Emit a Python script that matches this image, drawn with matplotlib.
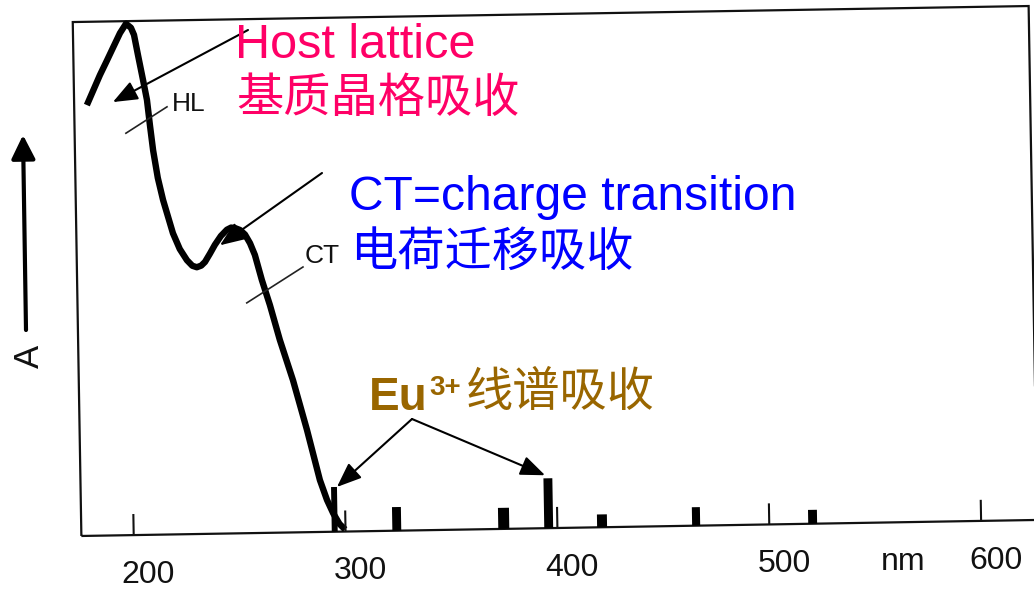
import matplotlib
matplotlib.use("Agg")
import matplotlib.pyplot as plt
from matplotlib.transforms import Affine2D, ScaledTranslation
from matplotlib.patches import Rectangle

W, H = 1034, 590

# absorption spectrum: wavelength (nm) vs relative absorbance
wavelength = [181.3, 184.5, 187.7, 191.0, 194.0, 197.5, 200.4, 202.7, 204.1,
              205.8, 208.0, 209.7, 210.9, 212.2, 214.2, 216.5, 220.9, 224.0,
              227.3, 229.8, 231.9, 234.0, 235.8, 238.2, 240.6, 243.5, 246.4,
              248.4, 250.2, 252.6, 254.9, 257.2, 259.4, 262.5, 266.1, 270.5,
              276.4, 282.6, 288.3, 291.5, 294.3, 297.2, 299.8]
absorbance = [0.838, 0.867, 0.896, 0.923, 0.948, 0.977, 0.995, 0.987, 0.973,
              0.934, 0.885, 0.846, 0.797, 0.748, 0.694, 0.651, 0.586, 0.555,
              0.533, 0.522, 0.519, 0.522, 0.529, 0.545, 0.562, 0.579, 0.591,
              0.595, 0.594, 0.590, 0.581, 0.564, 0.541, 0.492, 0.443, 0.375,
              0.296, 0.199, 0.101, 0.062, 0.036, 0.015, 0.004]

# Eu3+ f-f line absorptions
eu_nm = [294.9, 324.2, 374.7, 395.9, 421.1, 465.5, 520.5]
eu_abs = [0.087, 0.046, 0.041, 0.097, 0.025, 0.036, 0.027]
eu_width = [2.8, 4.2, 5.2, 4.2, 4.7, 3.8, 4.2]

tick_nm = [200, 300, 400, 500, 600]
tick_labels = ["200", "300", "400", "500", "600"]

PINK = "#FF0066"
BLUE = "#0000FF"
GOLD = "#996600"
INK = "#111111"

plt.rcParams["font.family"] = ["Liberation Sans", "Noto Sans CJK SC"]


def fig_xy(x, y):
    """pixel position measured from the top-left corner -> figure fraction"""
    return x / W, 1 - y / H


fig = plt.figure(figsize=(W / 100, H / 100), dpi=100)
ax = fig.add_axes([77 / W, 62 / H, 956 / W, 514 / H])
ax.set_xlim(175.3, 626.5)
ax.set_ylim(0, 1)
ax.set_axis_off()

# the scanned spectrum is about one degree off horizontal
tilt = Affine2D().rotate_deg_around(555, 319, 0.96)
data_tr = ax.transData + tilt

ax.add_patch(Rectangle((0, 0), 1, 1, transform=ax.transAxes + tilt,
                       fill=False, lw=1.6, ec=INK, clip_on=False))

ax.plot(wavelength, absorbance, color="black", lw=4.6, transform=data_tr,
        clip_on=False, solid_joinstyle="round", solid_capstyle="butt")

bars = ax.bar(eu_nm, eu_abs, width=eu_width, color="black", clip_on=False)
for b in bars:
    b.set_transform(data_tr)

ax.vlines(tick_nm, 0, 0.041, colors=INK, lw=1.5, transform=data_tr,
          clip_on=False)

label_tr = ax.transData + ScaledTranslation(0.14, -0.48, fig.dpi_scale_trans) + tilt
for t, lab in zip(tick_nm, tick_labels):
    ax.text(t, 0, lab, transform=label_tr, ha="center", va="baseline",
            fontsize=23, color=INK, clip_on=False)
ax.text(556, 0, "nm", transform=label_tr, ha="center", va="baseline",
        fontsize=23, color=INK, clip_on=False)

# HL / CT band markers
ax.plot([199.5, 219.1], [0.782, 0.832], color="#222222", lw=1.2,
        transform=data_tr, clip_on=False)
ax.text(221.6, 0.823, "HL", transform=data_tr, ha="left", va="baseline",
        fontsize=19, color=INK)
ax.plot([255.2, 282.0], [0.448, 0.516], color="#222222", lw=1.2,
        transform=data_tr, clip_on=False)
ax.text(282.7, 0.524, "CT", transform=data_tr, ha="left", va="baseline",
        fontsize=19, color=INK)

# absorbance axis arrow
ax.annotate("", xy=fig_xy(23, 135), xytext=fig_xy(26, 330),
            xycoords="figure fraction", textcoords="figure fraction",
            arrowprops=dict(arrowstyle="-|>,head_length=0.8,head_width=0.4",
                            mutation_scale=18, lw=3, color="black",
                            shrinkA=0, shrinkB=0))
fig.text(*fig_xy(29.5, 356), "A", rotation=90, fontsize=25, color=INK,
         ha="center", va="center")

# annotations
fig.text(*fig_xy(235, 58), "Host lattice", color=PINK, fontsize=35,
         ha="left", va="baseline")
fig.text(*fig_xy(236, 100), "基质晶格吸收", color=PINK, fontsize=34,
         ha="left", va="center")
fig.text(*fig_xy(349, 210), "CT=charge transition", color=BLUE, fontsize=34.6,
         ha="left", va="baseline")
fig.text(*fig_xy(350, 254), "电荷迁移吸收", color=BLUE, fontsize=34,
         ha="left", va="center")
fig.text(*fig_xy(369, 410), "Eu", color=GOLD, fontsize=33, fontweight="bold",
         ha="left", va="baseline")
fig.text(*fig_xy(429, 395), "3+", color=GOLD, fontsize=20, fontweight="bold",
         ha="left", va="baseline")
fig.text(*fig_xy(466, 394), "线谱吸收", color=GOLD, fontsize=34,
         ha="left", va="center")

arrow = dict(arrowstyle="-|>,head_length=0.6,head_width=0.24",
             mutation_scale=25, lw=1.5, color="black", shrinkA=0, shrinkB=0)
ax.annotate("", xy=(193.6, 0.843), xycoords=data_tr,
            xytext=fig_xy(248, 30), textcoords="figure fraction",
            arrowprops=arrow)
ax.annotate("", xy=(243.0, 0.561), xycoords=data_tr,
            xytext=fig_xy(322, 173), textcoords="figure fraction",
            arrowprops=arrow)
ax.annotate("", xy=(eu_nm[0] + 1.4, eu_abs[0]), xycoords=data_tr,
            xytext=fig_xy(412, 419), textcoords="figure fraction",
            arrowprops=arrow)
ax.annotate("", xy=(eu_nm[3] - 1.3, eu_abs[3] + 0.006), xycoords=data_tr,
            xytext=fig_xy(412, 419), textcoords="figure fraction",
            arrowprops=arrow)

fig.savefig("out.png", dpi=100)
